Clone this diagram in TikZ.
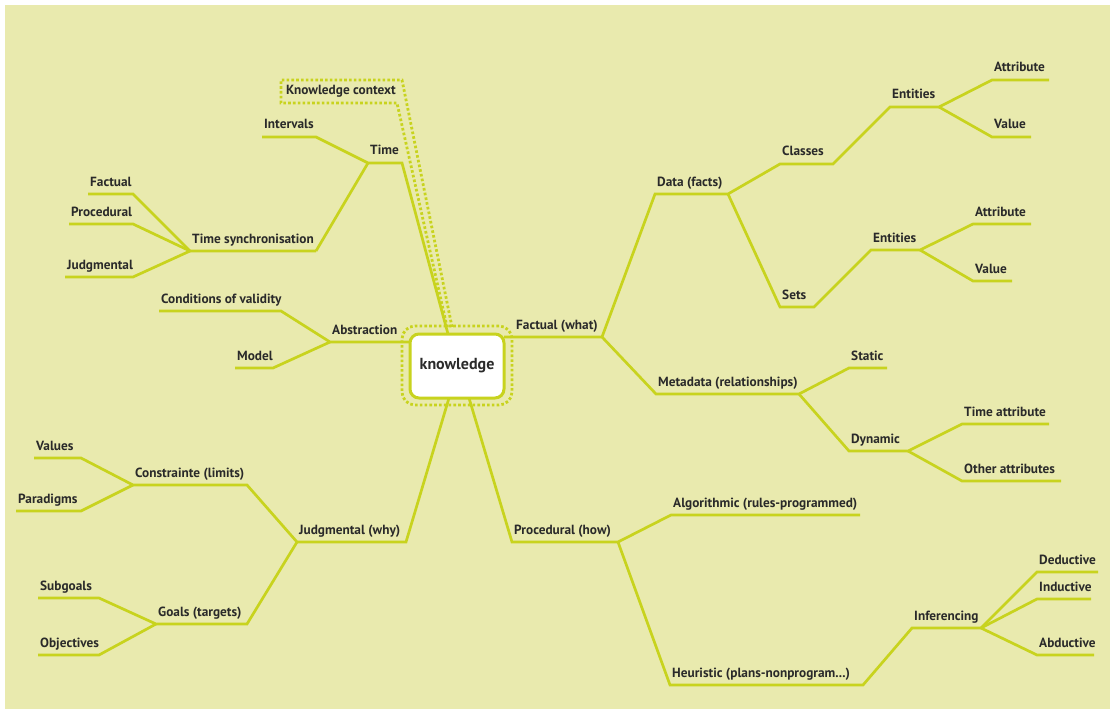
\documentclass[tikz,border=0pt]{standalone}
\usepackage{fontspec}
\setmainfont{PT Sans}
\definecolor{paper}{HTML}{E9EAAE}
\definecolor{twig}{HTML}{C8D31E}
\definecolor{ink}{HTML}{2A2A2A}
\tikzset{
  branch/.style={draw=twig, line width=2.7pt, line join=miter, line cap=butt},
  lbl/.style={anchor=base west, inner sep=0pt, text=ink, font=\bfseries\fontsize{13.3}{15}\selectfont},
  dotline/.style={draw=twig, line width=2.8pt, dash pattern=on 2.6pt off 2.2pt},
}
% one labelled twig: name, left x, right x, line y, label
\newcommand\mmtopic[5]{%
  \coordinate (#1-l) at (#2,#4);
  \coordinate (#1-r) at (#3,#4);
  \node[lbl] (#1) at (#2+2,#4-8) {#5};
}
\begin{document}
\begin{tikzpicture}[x=1pt,y=-1pt]
\useasboundingbox (0,0) rectangle (1115,714);
\fill[white] (0,0) rectangle (1115,714);
\fill[paper] (5,5) rectangle (1110,709);

% --- left: time
\mmtopic{time}{368}{402}{163}{Time}
\mmtopic{intervals}{262}{316}{137}{Intervals}
\mmtopic{tsync}{190}{316}{251}{Time synchronisation}
\mmtopic{tfact}{88}{133}{194}{Factual}
\mmtopic{tproc}{69}{133}{224}{Procedural}
\mmtopic{tjudg}{65}{133}{277}{Judgmental}
% --- left: abstraction
\mmtopic{abstr}{330}{410}{342}{Abstraction}
\mmtopic{cond}{159}{281}{311}{Conditions of validity}
\mmtopic{model}{235}{273}{368}{Model}
% --- left: judgmental
\mmtopic{judg}{297}{406}{542}{Judgmental (why)}
\mmtopic{cons}{133}{247}{485}{Constrainte (limits)}
\mmtopic{values}{34}{81}{458}{Values}
\mmtopic{para}{16}{81}{511}{Paradigms}
\mmtopic{goals}{156}{247}{624}{Goals (targets)}
\mmtopic{subg}{38}{99}{598}{Subgoals}
\mmtopic{obj}{38}{99}{655}{Objectives}
% --- right: factual
\coordinate (fact-l) at (504,337);
\coordinate (fact-r) at (602,337);
\node[lbl] (fact) at (516,329) {Factual (what)};
\mmtopic{data}{655}{728}{194}{Data (facts)}
\mmtopic{classes}{780}{833}{164}{Classes}
\mmtopic{entA}{890}{939}{107}{Entities}
\mmtopic{attrA}{992}{1049}{80}{Attribute}
\mmtopic{valA}{992}{1031}{137}{Value}
\mmtopic{sets}{780}{814}{307}{Sets}
\mmtopic{entB}{871}{920}{250}{Entities}
\mmtopic{attrB}{973}{1031}{224}{Attribute}
\mmtopic{valB}{973}{1012}{281}{Value}
\mmtopic{meta}{656}{799}{394}{Metadata (relationships)}
\mmtopic{static}{849}{887}{368}{Static}
\mmtopic{dyn}{849}{908}{451}{Dynamic}
\mmtopic{tattr}{962}{1049}{424}{Time attribute}
\mmtopic{oattr}{962}{1061}{481}{Other attributes}
% --- right: procedural
\mmtopic{proc}{512}{618}{542}{Procedural (how)}
\mmtopic{algo}{671}{860}{515}{Algorithmic (rules-programmed)}
\mmtopic{heur}{670}{863}{685}{Heuristic (plans-nonprogram...)}
\mmtopic{infer}{912}{981}{628}{Inferencing}
\mmtopic{ded}{1037}{1098}{572}{Deductive}
\mmtopic{ind}{1037}{1091}{599}{Inductive}
\mmtopic{abd}{1037}{1094}{655}{Abductive}

% attachment points on the central box
\coordinate (kn-t) at (448,334);
\coordinate (kn-bl) at (449,398);
\coordinate (kn-br) at (469,398);

% --- connectors
\draw[branch] (intervals-l) -- (intervals-r) -- (time-l) -- (time-r) -- (kn-t);
\draw[branch] (tsync-r) -- (time-l);
\draw[branch] (tfact-l) -- (tfact-r) -- (tsync-l) -- (tsync-r);
\draw[branch] (tproc-l) -- (tproc-r) -- (tsync-l);
\draw[branch] (tjudg-l) -- (tjudg-r) -- (tsync-l);
\draw[branch] (cond-l) -- (cond-r) -- (abstr-l) -- (abstr-r);
\draw[branch] (model-l) -- (model-r) -- (abstr-l);
\draw[branch] (values-l) -- (values-r) -- (cons-l) -- (cons-r) -- (judg-l) -- (judg-r) -- (kn-bl);
\draw[branch] (para-l) -- (para-r) -- (cons-l);
\draw[branch] (subg-l) -- (subg-r) -- (goals-l) -- (goals-r) -- (judg-l);
\draw[branch] (obj-l) -- (obj-r) -- (goals-l);

\draw[branch] (fact-l) -- (fact-r) -- (data-l) -- (data-r) -- (classes-l) -- (classes-r) -- (entA-l) -- (entA-r) -- (attrA-l) -- (attrA-r);
\draw[branch] (entA-r) -- (valA-l) -- (valA-r);
\draw[branch] (data-r) -- (sets-l) -- (sets-r) -- (entB-l) -- (entB-r) -- (attrB-l) -- (attrB-r);
\draw[branch] (entB-r) -- (valB-l) -- (valB-r);
\draw[branch] (fact-r) -- (meta-l) -- (meta-r) -- (static-l) -- (static-r);
\draw[branch] (meta-r) -- (dyn-l) -- (dyn-r) -- (tattr-l) -- (tattr-r);
\draw[branch] (dyn-r) -- (oattr-l) -- (oattr-r);

\draw[branch] (kn-br) -- (proc-l) -- (proc-r) -- (algo-l) -- (algo-r);
\draw[branch] (proc-r) -- (heur-l) -- (heur-r) -- (infer-l) -- (infer-r) -- (ded-l) -- (ded-r);
\draw[branch] (infer-r) -- (ind-l) -- (ind-r);
\draw[branch] (infer-r) -- (abd-l) -- (abd-r);

% --- knowledge context tag with its double dotted tail
\node[lbl] (ctx) at (286,95) {Knowledge context};
\coordinate (ctx-a) at (402,80);
\coordinate (ctx-b) at (397,103);
\coordinate (tail-a) at (452,327);
\coordinate (tail-b) at (447,327);
\draw[dotline] (tail-a) -- (ctx-a) -- (281,80) -- (281,103) -- (ctx-b) -- (tail-b);

% --- central node
\node[dotline, rounded corners=13pt, minimum width=110pt, minimum height=79pt] (ring) at (457,365.5) {};
\node[draw=twig, fill=white, line width=3pt, rounded corners=9pt,
      minimum width=94pt, minimum height=64pt, text=ink,
      font=\bfseries\fontsize{16}{19}\selectfont] (kn) at (457,366) {knowledge};
\end{tikzpicture}
\end{document}
